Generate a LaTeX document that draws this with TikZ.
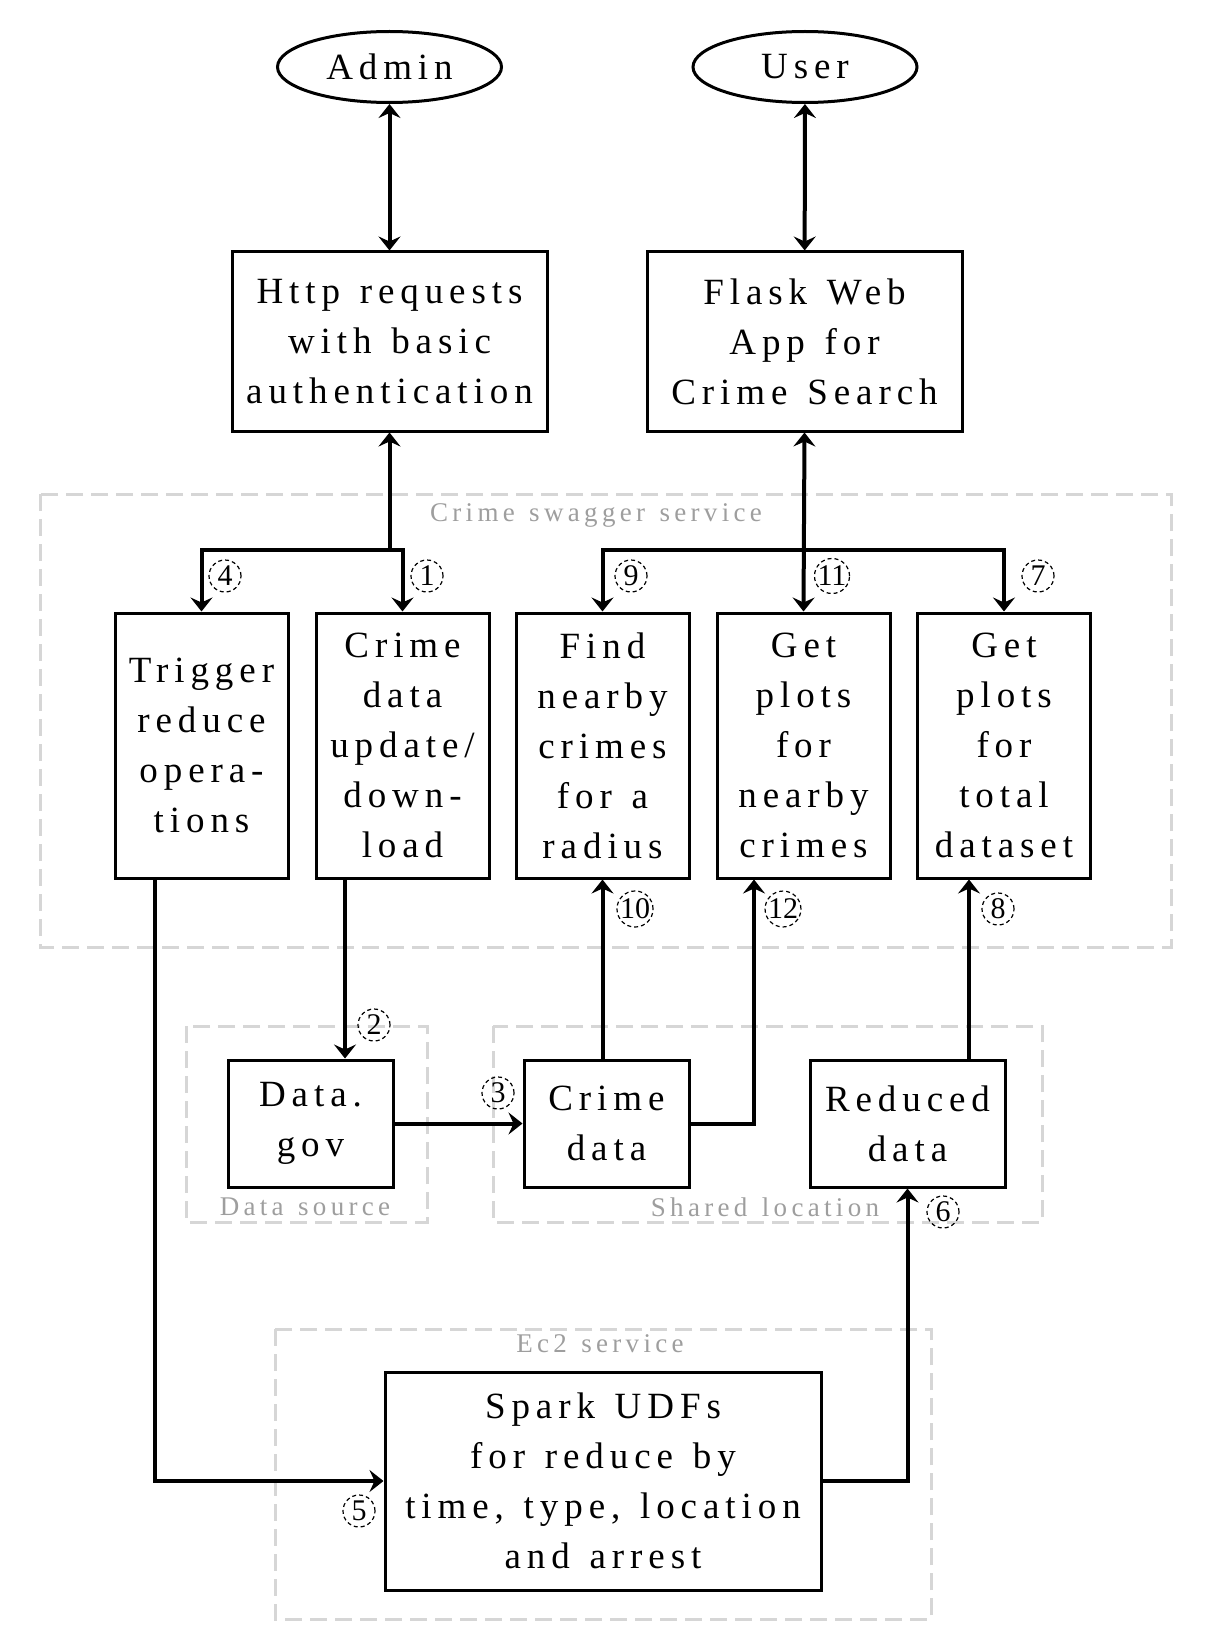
\documentclass[tikz,border=0pt]{standalone}
\usepackage{fontspec}
\setmainfont{Liberation Serif}[LetterSpace=16,WordSpace=1.3]
\newfontfamily\numfont{Liberation Serif}
\usetikzlibrary{arrows.meta,shapes.geometric,positioning,calc}

\begin{document}
\begin{tikzpicture}[x=0.5pt,y=-0.5pt,
  box/.style={draw,line width=1.5pt,align=center,inner sep=0pt,font=\fontsize{18.5}{25}\selectfont},
  actor/.style={ellipse,draw,line width=1.5pt,minimum width=112pt,minimum height=35.5pt,inner sep=0pt,font=\fontsize{18.5}{25}\selectfont},
  svc/.style={box,minimum width=86.5pt,minimum height=132.5pt},
  store/.style={box,minimum height=63.5pt},
  grp/.style={draw=black!16,line width=1.5pt,dash pattern=on 8.5pt off 4pt},
  grplabel/.style={text=black!38,inner sep=0pt,font=\fontsize{13.5}{16}\selectfont},
  flow/.style={line width=2pt,-{Stealth[length=7pt,width=11pt,inset=2.5pt]}},
  twoway/.style={line width=2pt,{Stealth[length=7pt,width=11pt,inset=2.5pt]}-{Stealth[length=7pt,width=11pt,inset=2.5pt]}},
  num/.style={circle,draw,line width=0.6pt,dash pattern=on 2pt off 1.5pt,minimum size=16pt,inner sep=0pt,font=\numfont\fontsize{15}{15}\selectfont}]
  \useasboundingbox (0,0) rectangle (1206,1637);

  \draw[grp] (40,494) rectangle (1171,947);
  \draw[grp] (186,1026) rectangle (427,1222);
  \draw[grp] (493,1026) rectangle (1042,1222);
  \draw[grp] (275,1329) rectangle (931,1619);
  \node[grplabel] (lswag) at (596,515) {Crime swagger service};
  \node[grplabel] (lsrc) at (305,1207) {Data source};
  \node[grplabel] (lshare) at (765,1207) {Shared location};
  \node[grplabel] (lec2) at (600,1344) {Ec2 service};

  \node[actor] (admin) at (389.5,67) {Admin};
  \node[actor] (user) at (805,67) {User};
  \node[box,minimum width=157.5pt,minimum height=89.5pt] (http) at (389.5,341.5) {Http requests\\with basic\\authentication};
  \node[box,minimum width=157.5pt,minimum height=89.5pt] (flask) at (804.5,341.5) {Flask Web\\App for\\Crime Search};

  \node[svc] (trig) at (201.5,745.5) {Trigger\\reduce\\opera-\\tions};
  \node[svc] (upd) at (402.5,745.5) {Crime\\data\\update/\\down-\\load};
  \node[svc] (find) at (602.5,745.5) {Find\\nearby\\crimes\\for a\\radius};
  \node[svc] (near) at (803.5,745.5) {Get\\plots\\for\\nearby\\crimes};
  \node[svc] (total) at (1004,745.5) {Get\\plots\\for\\total\\dataset};

  \node[store,minimum width=82.5pt] (gov) at (310.5,1123.5) {Data.\\gov};
  \node[store,minimum width=82.5pt] (cdat) at (606.5,1123.5) {Crime\\data};
  \node[store,minimum width=97.5pt] (red) at (907.5,1123.5) {Reduced\\data};
  \node[box,minimum width=218pt,minimum height=109pt] (spark) at (603,1481) {Spark UDFs\\for reduce by\\time, type, location\\and arrest};

  \coordinate (splitA) at (389.5,550);
  \coordinate (splitB) at (804.5,550);
  \coordinate (c2) at (345,0);
  \coordinate (c5) at (154.5,0);
  \coordinate (c8) at (969,0);
  \coordinate (c12) at (754,0);

  \draw[twoway] (admin) -- (http);
  \draw[twoway] (user) -- (flask);
  \draw[twoway] (http.south) -- (splitA) -| (trig.north);
  \draw[flow] (splitA) -| (upd.north);
  \draw[twoway] (flask.south) -- (near.north);
  \draw[flow] (splitB) -| (find.north);
  \draw[flow] (splitB) -| (total.north);
  \draw[flow] (upd.south -| c2) -- (gov.north -| c2);
  \draw[flow] (gov.east) -- (cdat.west);
  \draw[flow] (cdat.north -| find.south) -- (find.south);
  \draw[flow] (cdat.east) -| (near.south -| c12);
  \draw[flow] (red.north -| c8) -- (total.south -| c8);
  \draw[flow] (trig.south -| c5) |- (spark.west);
  \draw[flow] (spark.east) -| (red.south);

  \node[num] (n1) at (427,576) {1};
  \node[num] (n2) at (374,1025) {2};
  \node[num] (n3) at (498,1093) {3};
  \node[num] (n4) at (225,576) {4};
  \node[num] (n5) at (359,1511) {5};
  \node[num] (n6) at (943,1212) {6};
  \node[num] (n7) at (1038,576) {7};
  \node[num] (n8) at (998,909) {8};
  \node[num] (n9) at (631,576) {9};
  \node[num] (n10) at (635,909) {10};
  \node[num] (n11) at (832,576) {11};
  \node[num] (n12) at (783,909) {12};
\end{tikzpicture}
\end{document}
